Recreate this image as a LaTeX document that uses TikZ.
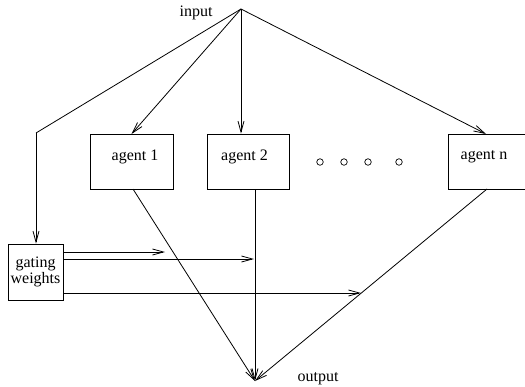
\documentclass[tikz,border=0pt]{standalone}
\usepackage{fontspec}
\setmainfont{Liberation Serif}
\usetikzlibrary{arrows.meta,calc}
\begin{document}
\begin{tikzpicture}[x=1pt,y=-1pt,
  line width=0.8pt,
  arr/.style={-{Straight Barb[length=11pt,width=6pt,line width=0.8pt]}},
  box/.style={draw,rectangle,inner sep=0pt,font=\fontsize{16}{13}\selectfont},
  lbl/.style={inner sep=0pt,font=\fontsize{16}{13}\selectfont},
  dot/.style={draw,circle,inner sep=0pt,minimum size=6.5pt,line width=0.7pt}]
  \useasboundingbox (0,0) rectangle (525,386);
  \clip (0,0) rectangle (525,386);

  % sources and sinks
  \coordinate (in) at (241,9);
  \coordinate (out) at (255,381);
  \node[lbl] (inlbl) at (196,13) {input};
  \node[lbl] (outlbl) at (318,379) {output};

  % experts
  \node[box,minimum width=83pt,minimum height=55pt] (a1) at (131.5,161.5) {};
  \node[lbl] at (135,157) {agent 1};
  \node[box,minimum width=82pt,minimum height=55pt] (a2) at (248,161.5) {};
  \node[lbl] at (244.5,157) {agent 2};
  \node[box,minimum width=83pt,minimum height=55pt] (an) at (489.5,161.5) {};
  \node[lbl] at (484,157) {agent n};

  % ellipsis
  \node[dot] (d1) at (320,162) {};
  \node[dot] (d2) at (344,162) {};
  \node[dot] (d3) at (368,162) {};
  \node[dot] (d4) at (399,162) {};

  % gating network
  \node[box,minimum width=55pt,minimum height=56pt,align=center] (g) at (35.5,272) {gating\\weights};

  % input fan-out
  \coordinate (bend) at (36,133);
  \draw (in) -- (bend);
  \draw[arr] (bend) -- (g.north -| bend);
  \draw[arr] (in) -- (133,134 -| a1.north);
  \draw[arr] (in) -- (in |- a2.north);
  \coordinate (anin) at (486,134);
  \draw[arr] (in) -- (anin);

  % expert outputs
  \coordinate (a1out) at (133,189);
  \coordinate (a2out) at (255,189);
  \coordinate (anout) at (487,189);
  \draw[arr] (a1out) -- (out);
  \draw[arr] (a2out) -- (out);
  \draw[arr] (anout) -- (out);

  % gating weights
  \coordinate (w1) at (165,252);
  \coordinate (w2) at (254,259);
  \coordinate (w3) at (361,293);
  \draw[arr] (g.east |- w1) -- (w1);
  \draw[arr] (g.east |- w2) -- (w2);
  \draw[arr] (g.east |- w3) -- (w3);
\end{tikzpicture}
\end{document}
